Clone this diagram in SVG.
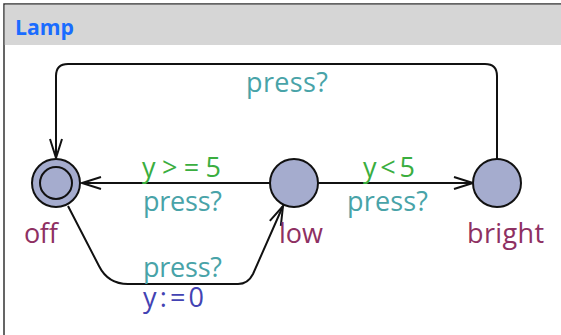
<svg xmlns="http://www.w3.org/2000/svg" width="561" height="335" viewBox="0 0 561 335">
<style>
.lbl{font-family:"Open Sans","DejaVu Sans","Liberation Sans",sans-serif;font-size:27px}
.sync{fill:#48a3a8}
.guard{fill:#3aae3f}
.assign{fill:#4343b3}
.name{fill:#8e3062}
.node{fill:#a5acce;stroke:#111;stroke-width:2}
.edge{fill:none;stroke:#111;stroke-width:2}
</style>
<defs>
<marker id="arr" markerUnits="userSpaceOnUse" markerWidth="24" markerHeight="16" viewBox="0 0 24 16" refX="20" refY="8" orient="auto">
<path d="M1,2 L20,8 L1,14" fill="none" stroke="#111" stroke-width="2"/>
</marker>
</defs>
<rect x="0" y="0" width="561" height="335" fill="#fff"/>
<rect x="4" y="4" width="570" height="345" fill="#fff" stroke="#333" stroke-width="1.5"/>
<rect x="4.75" y="4.75" width="560" height="40.25" fill="#d6d6d6"/>
<text x="15" y="35" font-family="'Open Sans','DejaVu Sans',sans-serif" font-size="21.5" font-weight="bold" fill="#1a6cff" textLength="59" lengthAdjust="spacingAndGlyphs">Lamp</text>
<g id="connectors">
<path class="edge" d="M270,183 L82,183" marker-end="url(#arr)"/>
<path class="edge" d="M318,183 L473,183" marker-end="url(#arr)"/>
<path class="edge" d="M497,159 L497,76 Q497,64 485,64 L68,64 Q56,64 56,76 L56,158" marker-end="url(#arr)"/>
<path class="edge" d="M68,206 L99,266 Q108,284 128,284 L238,284 Q248,284 253,274 L283,206" marker-end="url(#arr)"/>
<text class="lbl sync" x="246" y="92" textLength="82">press?</text>
<text class="lbl guard" x="142" y="177" textLength="79">y&gt;=5</text>
<text class="lbl sync" x="143" y="211" textLength="79">press?</text>
<text class="lbl guard" x="363" y="177" textLength="52">y&lt;5</text>
<text class="lbl sync" x="347" y="211" textLength="81">press?</text>
<text class="lbl sync" x="143" y="277" textLength="79">press?</text>
<text class="lbl assign" x="143" y="307" textLength="61">y:=0</text>
</g>
<g id="off">
<circle class="node" cx="56" cy="183" r="24"/>
<circle class="node" cx="56" cy="183" r="16"/>
<text class="lbl name" x="24" y="243" textLength="34">off</text>
</g>
<g id="low">
<circle class="node" cx="294" cy="183" r="24"/>
<text class="lbl name" x="279" y="243" textLength="44">low</text>
</g>
<g id="bright">
<circle class="node" cx="497" cy="183" r="24"/>
<text class="lbl name" x="467" y="243" textLength="77">bright</text>
</g>
</svg>
